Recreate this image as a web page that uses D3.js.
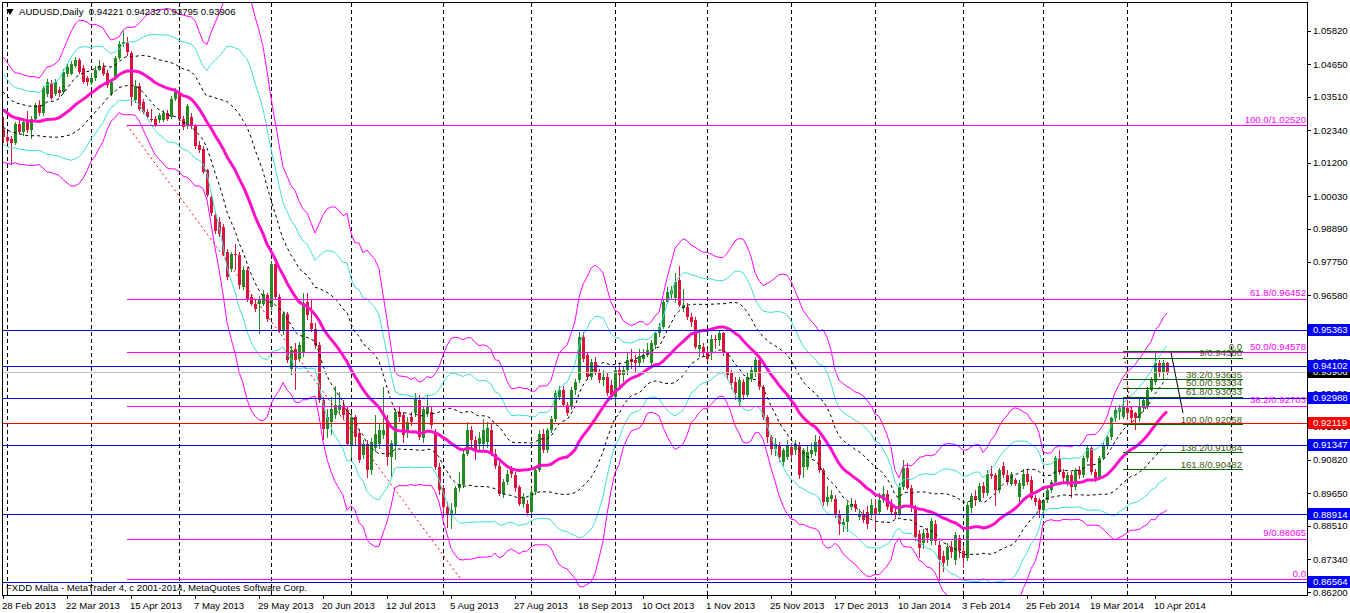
<!DOCTYPE html>
<html><head><meta charset="utf-8">
<script src="https://cdn.jsdelivr.net/npm/d3@7"></script>
<style>
html,body{margin:0;padding:0;background:#fff;overflow:hidden;}
svg{display:block;font-family:"Liberation Sans",Arial,sans-serif;}
</style></head><body>
<svg id="c" width="1350" height="613"></svg>
<script>
// ---------------- data ----------------
const symbolTitle = "AUDUSD,Daily";
const lastQuote = ["0.94221", "0.94232", "0.93795", "0.93906"];
const footerText = "FXDD Malta - MetaTrader 4, c 2001-2014, MetaQuotes Software Corp.";

// closes of the 19 sessions before the first visible bar (needed for the 20-bar bands)
const warmupCloses = [1.0430,1.0418,1.0374,1.0302,1.0318,1.0310,1.0295,1.0323,1.0325,1.0313,
  1.0334,1.0335,1.0380,1.0285,1.0245,1.0240,1.0255,1.0210,1.0233];

// daily candles [open, high, low, close], 28 Feb 2013 -> Apr 2014
const candles = [
[1.0240,1.0281,1.0188,1.0211],[1.0211,1.0225,1.0185,1.0197],[1.0202,1.0215,1.0112,1.0190],[1.0190,1.0262,1.0183,1.0255],
[1.0255,1.0280,1.0220,1.0228],[1.0228,1.0275,1.0215,1.0263],[1.0269,1.0300,1.0225,1.0234],[1.0234,1.0285,1.0202,1.0275],
[1.0272,1.0330,1.0265,1.0322],[1.0322,1.0340,1.0285,1.0293],[1.0293,1.0390,1.0285,1.0380],[1.0362,1.0412,1.0350,1.0403],
[1.0400,1.0410,1.0340,1.0348],[1.0362,1.0412,1.0355,1.0403],[1.0374,1.0385,1.0350,1.0365],[1.0368,1.0448,1.0360,1.0438],
[1.0432,1.0465,1.0420,1.0456],[1.0432,1.0475,1.0428,1.0467],[1.0458,1.0490,1.0450,1.0481],[1.0479,1.0488,1.0430,1.0438],
[1.0450,1.0462,1.0395,1.0403],[1.0415,1.0425,1.0390,1.0403],[1.0400,1.0430,1.0392,1.0418],[1.0415,1.0458,1.0405,1.0446],
[1.0444,1.0478,1.0440,1.0458],[1.0456,1.0470,1.0425,1.0432],[1.0434,1.0445,1.0380,1.0392],[1.0362,1.0410,1.0355,1.0403],
[1.0421,1.0495,1.0410,1.0485],[1.0485,1.0545,1.0478,1.0537],[1.0537,1.0582,1.0525,1.0543],[1.0540,1.0560,1.0495,1.0508],
[1.0503,1.0510,1.0320,1.0350],[1.0340,1.0410,1.0330,1.0390],[1.0390,1.0400,1.0300,1.0310],[1.0333,1.0345,1.0290,1.0298],
[1.0298,1.0310,1.0275,1.0281],[1.0275,1.0310,1.0262,1.0269],[1.0273,1.0285,1.0245,1.0252],[1.0269,1.0295,1.0260,1.0287],
[1.0269,1.0305,1.0262,1.0293],[1.0293,1.0305,1.0265,1.0272],[1.0281,1.0352,1.0275,1.0345],[1.0345,1.0380,1.0338,1.0368],
[1.0365,1.0375,1.0268,1.0275],[1.0275,1.0285,1.0235,1.0246],[1.0248,1.0325,1.0240,1.0318],[1.0281,1.0295,1.0240,1.0248],
[1.0248,1.0255,1.0170,1.0178],[1.0184,1.0195,1.0155,1.0164],[1.0170,1.0178,1.0080,1.0088],[1.0094,1.0100,1.0000,1.0007],
[1.0001,1.0010,0.9935,0.9945],[0.9937,0.9950,0.9870,0.9882],[0.9914,0.9930,0.9860,0.9873],[0.9896,0.9905,0.9795,0.9803],
[0.9809,0.9820,0.9710,0.9721],[0.9750,0.9810,0.9740,0.9803],[0.9803,0.9838,0.9745,0.9797],[0.9797,0.9810,0.9680,0.9692],
[0.9686,0.9760,0.9675,0.9745],[0.9745,0.9755,0.9635,0.9645],[0.9651,0.9660,0.9620,0.9628],[0.9628,0.9640,0.9600,0.9610],
[0.9628,0.9655,0.9523,0.9645],[0.9628,0.9675,0.9620,0.9663],[0.9657,0.9665,0.9565,0.9575],[0.9616,0.9778,0.9605,0.9768],
[0.9768,0.9775,0.9640,0.9651],[0.9651,0.9660,0.9525,0.9535],[0.9535,0.9600,0.9520,0.9593],[0.9593,0.9600,0.9420,0.9430],
[0.9400,0.9480,0.9380,0.9465],[0.9471,0.9490,0.9325,0.9430],[0.9436,0.9495,0.9425,0.9483],[0.9454,0.9665,0.9440,0.9629],
[0.9634,0.9665,0.9570,0.9588],[0.9559,0.9640,0.9530,0.9541],[0.9541,0.9560,0.9470,0.9483],[0.9483,0.9495,0.9280,0.9291],
[0.9291,0.9300,0.9150,0.9191],[0.9191,0.9260,0.9160,0.9232],[0.9215,0.9300,0.9170,0.9261],[0.9238,0.9340,0.9225,0.9273],
[0.9255,0.9320,0.9240,0.9273],[0.9267,0.9290,0.9225,0.9238],[0.9255,0.9270,0.9130,0.9139],[0.9130,0.9245,0.9090,0.9230],
[0.9230,0.9240,0.9130,0.9162],[0.9176,0.9190,0.9070,0.9083],[0.9098,0.9150,0.9085,0.9139],[0.9139,0.9150,0.9020,0.9046],
[0.9046,0.9160,0.9030,0.9145],[0.9125,0.9240,0.9110,0.9174],[0.9139,0.9210,0.9120,0.9186],[0.9168,0.9335,0.9155,0.9186],
[0.9221,0.9240,0.9060,0.9093],[0.9093,0.9150,0.9023,0.9140],[0.9130,0.9260,0.9080,0.9250],[0.9250,0.9265,0.9215,0.9232],
[0.9238,0.9250,0.9140,0.9168],[0.9180,0.9230,0.9160,0.9215],[0.9232,0.9250,0.9200,0.9215],[0.9244,0.9314,0.9230,0.9296],
[0.9290,0.9310,0.9150,0.9162],[0.9157,0.9270,0.9140,0.9261],[0.9244,0.9310,0.9230,0.9267],[0.9250,0.9270,0.9190,0.9203],
[0.9174,0.9190,0.9045,0.9057],[0.9057,0.9070,0.8960,0.8976],[0.8982,0.8995,0.8880,0.8917],[0.8917,0.8935,0.8845,0.8894],
[0.8888,0.8930,0.8840,0.8905],[0.8917,0.8990,0.8890,0.8982],[0.8982,0.9040,0.8970,0.8999],[0.8993,0.9115,0.8985,0.9104],
[0.9104,0.9215,0.9095,0.9186],[0.9186,0.9200,0.9120,0.9151],[0.9151,0.9165,0.9080,0.9116],[0.9139,0.9180,0.9110,0.9157],
[0.9139,0.9225,0.9120,0.9186],[0.9145,0.9215,0.9125,0.9192],[0.9186,0.9210,0.9095,0.9104],[0.9104,0.9120,0.9050,0.9060],
[0.9060,0.9075,0.8955,0.8964],[0.8964,0.9015,0.8950,0.9005],[0.9005,0.9045,0.8995,0.9034],[0.9046,0.9060,0.9020,0.9034],
[0.9028,0.9040,0.8970,0.8982],[0.8987,0.8995,0.8920,0.8929],[0.8929,0.8965,0.8915,0.8952],[0.8929,0.8940,0.8885,0.8896],
[0.8900,0.8985,0.8890,0.8970],[0.8970,0.9055,0.8960,0.9046],[0.9046,0.9185,0.9040,0.9174],[0.9174,0.9190,0.9105,0.9116],
[0.9116,0.9195,0.9105,0.9186],[0.9186,0.9235,0.9175,0.9226],[0.9226,0.9325,0.9215,0.9314],[0.9302,0.9340,0.9290,0.9326],
[0.9326,0.9340,0.9265,0.9273],[0.9273,0.9285,0.9235,0.9244],[0.9267,0.9335,0.9255,0.9326],[0.9326,0.9365,0.9310,0.9355],
[0.9361,0.9530,0.9350,0.9512],[0.9512,0.9528,0.9425,0.9436],[0.9448,0.9460,0.9362,0.9372],[0.9372,0.9435,0.9360,0.9424],
[0.9424,0.9440,0.9380,0.9390],[0.9390,0.9400,0.9350,0.9360],[0.9360,0.9395,0.9340,0.9370],[0.9372,0.9385,0.9305,0.9314],
[0.9343,0.9360,0.9290,0.9302],[0.9302,0.9400,0.9280,0.9395],[0.9395,0.9420,0.9340,0.9378],[0.9378,0.9410,0.9355,0.9395],
[0.9395,0.9455,0.9380,0.9430],[0.9436,0.9470,0.9400,0.9425],[0.9430,0.9450,0.9390,0.9419],[0.9419,0.9470,0.9405,0.9444],
[0.9436,0.9470,0.9420,0.9448],[0.9448,0.9490,0.9440,0.9465],[0.9419,0.9500,0.9410,0.9489],[0.9483,0.9530,0.9470,0.9524],
[0.9524,0.9560,0.9510,0.9547],[0.9547,0.9645,0.9540,0.9634],[0.9634,0.9685,0.9625,0.9669],[0.9663,0.9690,0.9645,0.9675],
[0.9646,0.9735,0.9630,0.9704],[0.9710,0.9758,0.9615,0.9623],[0.9611,0.9680,0.9600,0.9623],[0.9617,0.9630,0.9570,0.9582],
[0.9582,0.9595,0.9545,0.9564],[0.9570,0.9580,0.9470,0.9477],[0.9471,0.9540,0.9440,0.9483],[0.9477,0.9490,0.9440,0.9454],
[0.9454,0.9470,0.9425,0.9436],[0.9454,0.9520,0.9430,0.9506],[0.9506,0.9520,0.9470,0.9500],[0.9500,0.9535,0.9480,0.9524],
[0.9524,0.9530,0.9445,0.9454],[0.9454,0.9460,0.9360,0.9378],[0.9384,0.9395,0.9330,0.9349],[0.9355,0.9370,0.9290,0.9314],
[0.9285,0.9370,0.9270,0.9360],[0.9355,0.9365,0.9290,0.9308],[0.9308,0.9385,0.9300,0.9372],[0.9366,0.9410,0.9355,0.9395],
[0.9384,0.9440,0.9370,0.9430],[0.9430,0.9445,0.9325,0.9337],[0.9337,0.9345,0.9220,0.9232],[0.9232,0.9240,0.9140,0.9162],
[0.9162,0.9170,0.9100,0.9121],[0.9121,0.9160,0.9095,0.9139],[0.9133,0.9145,0.9075,0.9092],[0.9075,0.9125,0.9060,0.9116],
[0.9092,0.9150,0.9080,0.9133],[0.9127,0.9140,0.9085,0.9098],[0.9116,0.9150,0.9100,0.9139],[0.9133,0.9145,0.9015,0.9028],
[0.9057,0.9125,0.9020,0.9116],[0.9057,0.9130,0.9045,0.9110],[0.9104,0.9140,0.9090,0.9116],[0.9110,0.9170,0.9095,0.9145],
[0.9151,0.9165,0.9035,0.9046],[0.9046,0.9055,0.8920,0.8935],[0.8935,0.8990,0.8920,0.8952],[0.8946,0.8975,0.8935,0.8958],
[0.8946,0.8960,0.8880,0.8894],[0.8894,0.8905,0.8820,0.8859],[0.8853,0.8880,0.8830,0.8865],[0.8865,0.8935,0.8830,0.8923],
[0.8917,0.8950,0.8905,0.8929],[0.8929,0.8940,0.8900,0.8912],[0.8882,0.8910,0.8870,0.8894],[0.8888,0.8905,0.8860,0.8871],
[0.8900,0.8920,0.8840,0.8859],[0.8894,0.8945,0.8880,0.8923],[0.8912,0.8945,0.8840,0.8894],[0.8900,0.8965,0.8890,0.8941],
[0.8941,0.8990,0.8930,0.8964],[0.8964,0.8975,0.8905,0.8917],[0.8929,0.8945,0.8890,0.8900],[0.8900,0.8910,0.8875,0.8894],
[0.8894,0.9000,0.8885,0.8987],[0.8987,0.9080,0.8975,0.9052],[0.9052,0.9070,0.8975,0.8985],[0.8985,0.8995,0.8900,0.8912],
[0.8912,0.8925,0.8800,0.8812],[0.8824,0.8835,0.8740,0.8775],[0.8792,0.8840,0.8770,0.8827],[0.8827,0.8845,0.8790,0.8810],
[0.8798,0.8880,0.8785,0.8867],[0.8856,0.8870,0.8785,0.8798],[0.8786,0.8800,0.8660,0.8733],[0.8745,0.8765,0.8690,0.8720],
[0.8731,0.8790,0.8710,0.8778],[0.8778,0.8800,0.8740,0.8760],[0.8731,0.8830,0.8715,0.8818],[0.8810,0.8820,0.8740,0.8763],
[0.8763,0.8780,0.8705,0.8740],[0.8740,0.8935,0.8730,0.8923],[0.8915,0.8965,0.8895,0.8955],[0.8955,0.8975,0.8920,0.8940],
[0.8940,0.9000,0.8935,0.8990],[0.8990,0.9005,0.8950,0.8965],[0.8965,0.9045,0.8955,0.9034],[0.9034,0.9060,0.9015,0.9025],
[0.9028,0.9035,0.8920,0.8976],[0.8976,0.9055,0.8965,0.9045],[0.9060,0.9075,0.9020,0.9028],[0.9028,0.9045,0.8995,0.9005],
[0.8999,0.9040,0.8990,0.9034],[0.9011,0.9020,0.8990,0.8999],[0.8952,0.9010,0.8935,0.9000],[0.8990,0.9050,0.8980,0.9034],
[0.9034,0.9050,0.8995,0.9005],[0.9011,0.9025,0.8940,0.8947],[0.8947,0.8960,0.8920,0.8935],[0.8941,0.8950,0.8880,0.8906],
[0.8906,0.8945,0.8890,0.8941],[0.8941,0.8985,0.8930,0.8976],[0.8976,0.9010,0.8965,0.9005],[0.9005,0.9095,0.8995,0.9087],
[0.9087,0.9115,0.9030,0.9040],[0.9040,0.9050,0.9005,0.9017],[0.9000,0.9040,0.8990,0.9028],[0.9028,0.9040,0.8950,0.8987],
[0.8987,0.9055,0.8975,0.9046],[0.9046,0.9060,0.9015,0.9028],[0.9028,0.9095,0.9020,0.9087],[0.9087,0.9130,0.9075,0.9122],
[0.9122,0.9135,0.9030,0.9040],[0.9040,0.9050,0.9005,0.9020],[0.9020,0.9095,0.9010,0.9087],[0.9087,0.9140,0.9080,0.9133],
[0.9133,0.9170,0.9120,0.9162],[0.9162,0.9232,0.9150,0.9227],[0.9227,0.9265,0.9215,0.9256],[0.9250,0.9275,0.9220,0.9262],
[0.9232,0.9300,0.9225,0.9265],[0.9262,0.9290,0.9220,0.9244],[0.9256,0.9270,0.9210,0.9227],[0.9244,0.9250,0.9185,0.9227],
[0.9227,0.9295,0.9215,0.9270],[0.9262,0.9300,0.9250,0.9291],[0.9267,0.9335,0.9260,0.9326],[0.9326,0.9370,0.9320,0.9361],
[0.9355,0.9461,0.9345,0.9419],[0.9419,0.9430,0.9370,0.9390],[0.9384,0.9430,0.9360,0.9419],[0.94221,0.94232,0.93795,0.93906]
];

const dateLabels = ["28 Feb 2013","22 Mar 2013","15 Apr 2013","7 May 2013","29 May 2013","20 Jun 2013","12 Jul 2013",
  "5 Aug 2013","27 Aug 2013","18 Sep 2013","10 Oct 2013","1 Nov 2013","25 Nov 2013","17 Dec 2013","10 Jan 2014",
  "3 Feb 2014","25 Feb 2014","19 Mar 2014","10 Apr 2014"];
const dateLabelBars = [0,16,32,48,64,80,96,112,128,144,160,176,192,208,224,240,256,272,288];
const monthSeparatorBars = [1,22,44,67,87,110,132,153,176,197,218,240,260,281,307];

const priceTicks = [1.05820,1.04650,1.03510,1.02340,1.01200,1.00030,0.98890,0.97750,0.96580,
  0.95410,0.94270,0.93130,0.91990,0.90820,0.89650,0.88510,0.87340,0.86200];

const blueLevels = [0.95363,0.94102,0.92988,0.91347,0.88914,0.86564];
const redLevel = 0.92119;
const bidLevel = 0.93906;

const fibMainLevels = [1.02520,0.96452,0.94578,0.92703,0.88065,0.86640];
const fibMainLabels = ["100.0/1.02520","61.8/0.96452","50.0/0.94578","38.2/0.92703","9/0.88065","0.0"];
const fibMainBars = [31, 114.5];            // start bar of the levels / trend line ends
const fibMainTrend = [1.02520, 0.86640];

const fibSmallLevels = [0.94610,0.94380,0.93635,0.93334,0.93033,0.92058,0.91084,0.90482];
const fibSmallLabels = ["0.0","9/0.94380","38.2/0.93635","50.0/0.93334","61.8/0.93033","100.0/0.92058","138.2/0.91084","161.8/0.90482"];
const fibSmallBars = [280, 310];
const fibSmallTrendBars = [280.25, 282.25];
const fibSmallTrend = [0.94610, 0.92058];
const userTrendBars = [292, 295];
const userTrend = [0.94578, 0.92453];

const priceBoxes = [
  {v:0.93906, bg:"#000000"},
  {v:0.95363, bg:"#0000ff"},{v:0.94102, bg:"#0000ff"},{v:0.92988, bg:"#0000ff"},
  {v:0.92119, bg:"#ff0000"},{v:0.91347, bg:"#0000ff"},{v:0.88914, bg:"#0000ff"},{v:0.86564, bg:"#0000ff"}
];

// ---------------- drawing ----------------
const svg = d3.select("#c");
const L = 2.5, R = 1307.5, T = 2.5, B = 595.5;
const x = d3.scaleLinear().domain([0, 326]).range([3, 1307]);
const y = d3.scaleLinear().domain([0.86200, 1.05820]).range([592, 30.7]);
const FONT = 9.6;

svg.append("defs").append("clipPath").attr("id","plot")
  .append("rect").attr("x", L).attr("y", T).attr("width", R - L).attr("height", B - T);
const plot = svg.append("g").attr("clip-path","url(#plot)");

// month separators
plot.append("g").selectAll("line").data(monthSeparatorBars).join("line")
  .attr("x1", d => Math.round(x(d)) + 0.5).attr("x2", d => Math.round(x(d)) + 0.5)
  .attr("y1", T).attr("y2", B).attr("stroke", "#000").attr("stroke-dasharray", "4,3")
  .attr("shape-rendering","crispEdges");

// candles
const bull = "#228b22", bear = "#dc143c";
const cg = plot.append("g").attr("shape-rendering","crispEdges");
cg.selectAll("line").data(candles).join("line")
  .attr("x1", (d,i) => x(i) + 0.5).attr("x2", (d,i) => x(i) + 0.5)
  .attr("y1", d => y(d[1])).attr("y2", d => y(d[2]))
  .attr("stroke", d => d[3] >= d[0] ? bull : bear);
cg.selectAll("rect").data(candles).join("rect")
  .attr("x", (d,i) => x(i) - 1).attr("width", 3)
  .attr("y", d => y(Math.max(d[0], d[3])))
  .attr("height", d => Math.max(1, Math.abs(y(d[0]) - y(d[3]))))
  .attr("fill", d => d[3] >= d[0] ? bull : bear);

// Bollinger(20) bands with 1,2,3 deviations
const allCloses = warmupCloses.concat(candles.map(d => d[3]));
const n0 = warmupCloses.length;
const stats = candles.map((d, i) => {
  const w = allCloses.slice(i + n0 - 19, i + n0 + 1);
  const m = d3.mean(w);
  const sd = Math.sqrt(d3.mean(w, v => (v - m) * (v - m)));
  return {i, m, sd};
});
const line = d3.line().x(d => x(d[0])).y(d => y(d[1]));
const bandStyles = [
  {k:3, color:"#ff00ff", w:1, dash:null},
  {k:2, color:"#40e0d0", w:1, dash:null},
  {k:1, color:"#000000", w:1, dash:"3,3"}
];
bandStyles.forEach(s => {
  [1, -1].forEach(sign => {
    plot.append("path").datum(stats.map(p => [p.i, p.m + sign * s.k * p.sd]))
      .attr("d", line).attr("fill","none").attr("stroke", s.color).attr("stroke-width", s.w)
      .attr("stroke-dasharray", s.dash);
  });
});
plot.append("path").datum(stats.map(p => [p.i, p.m]))
  .attr("d", line).attr("fill","none").attr("stroke","#ff10c8").attr("stroke-width",3)
  .attr("stroke-linejoin","round");

// horizontal levels
const hl = plot.append("g").attr("shape-rendering","crispEdges");
hl.append("line").attr("x1", L).attr("x2", R).attr("y1", Math.round(y(bidLevel))+0.5).attr("y2", Math.round(y(bidLevel))+0.5)
  .attr("stroke","#c0c0c0");
hl.append("line").attr("x1", L).attr("x2", R).attr("y1", Math.round(y(redLevel))+0.5).attr("y2", Math.round(y(redLevel))+0.5)
  .attr("stroke","#ff0000");

// main fibonacci (magenta)
const fm = plot.append("g");
fm.selectAll("line").data(fibMainLevels).join("line")
  .attr("x1", x(fibMainBars[0])).attr("x2", R)
  .attr("y1", d => Math.round(y(d)) + 0.5).attr("y2", d => Math.round(y(d)) + 0.5)
  .attr("stroke","#ff00ff").attr("stroke-width",1.3).attr("shape-rendering","crispEdges");
fm.append("line").attr("x1", x(fibMainBars[0])).attr("y1", y(fibMainTrend[0]))
  .attr("x2", x(fibMainBars[1])).attr("y2", y(fibMainTrend[1]))
  .attr("stroke","#ff0000").attr("stroke-dasharray","2,3");
fm.selectAll("text").data(fibMainLevels).join("text")
  .attr("x", R - 1.5).attr("y", d => y(d) - 2.5).attr("text-anchor","end")
  .attr("font-size", FONT).attr("fill","#ff00ff").text((d,i) => fibMainLabels[i]);

// small fibonacci (green)
const fs = plot.append("g");
fs.selectAll("line").data(fibSmallLevels).join("line")
  .attr("x1", x(fibSmallBars[0])).attr("x2", x(fibSmallBars[1]))
  .attr("y1", d => Math.round(y(d)) + 0.5).attr("y2", d => Math.round(y(d)) + 0.5)
  .attr("stroke","#006400").attr("stroke-width",1.3).attr("shape-rendering","crispEdges");
fs.append("line").attr("x1", x(fibSmallTrendBars[0])).attr("y1", y(fibSmallTrend[0]))
  .attr("x2", x(fibSmallTrendBars[1])).attr("y2", y(fibSmallTrend[1]))
  .attr("stroke","#ff0000").attr("stroke-dasharray","2,3");
fs.selectAll("text").data(fibSmallLevels).join("text")
  .attr("x", x(fibSmallBars[1]) - 1).attr("y", d => y(d) - 1.5).attr("text-anchor","end")
  .attr("font-size", FONT).attr("fill","#3d5a12").text((d,i) => fibSmallLabels[i]);
plot.append("line").attr("x1", x(userTrendBars[0])).attr("y1", y(userTrend[0]))
  .attr("x2", x(userTrendBars[1])).attr("y2", y(userTrend[1])).attr("stroke","#000");

// blue levels on top
hl.append("g").selectAll("line").data(blueLevels).join("line")
  .attr("x1", L).attr("x2", R)
  .attr("y1", d => Math.round(y(d)) + 0.5).attr("y2", d => Math.round(y(d)) + 0.5)
  .attr("stroke","#0000ff").attr("stroke-width",1.4);

// header & footer
svg.append("path").attr("d", d3.symbol().type(d3.symbolTriangle).size(22))
  .attr("transform","translate(10,11) rotate(180)").attr("fill","#000");
svg.append("text").attr("x", 19).attr("y", 14.5).attr("font-size", FONT).attr("fill","#000")
  .attr("xml:space","preserve")
  .text(symbolTitle + "  " + lastQuote.join(" "));
svg.append("text").attr("x", 6).attr("y", 591).attr("font-size", FONT).attr("fill","#000").text(footerText);

// frame
svg.append("rect").attr("x", L).attr("y", T).attr("width", R - L).attr("height", B - T)
  .attr("fill","none").attr("stroke","#000").attr("shape-rendering","crispEdges");

// right price axis
const yAxis = svg.append("g");
yAxis.selectAll("line").data(priceTicks).join("line")
  .attr("x1", R).attr("x2", R + 3.5).attr("y1", d => Math.round(y(d)) + 0.5).attr("y2", d => Math.round(y(d)) + 0.5)
  .attr("stroke","#000").attr("shape-rendering","crispEdges");
yAxis.selectAll("text").data(priceTicks).join("text")
  .attr("x", 1313).attr("y", d => y(d) + 3.5).attr("font-size", FONT).attr("fill","#000")
  .text(d => d.toFixed(5));

// price boxes
const pb = svg.append("g").selectAll("g").data(priceBoxes).join("g");
pb.append("rect").attr("x", 1308).attr("width", 44).attr("y", d => Math.round(y(d.v)) - 6).attr("height", 12)
  .attr("fill", d => d.bg).attr("shape-rendering","crispEdges");
pb.append("text").attr("x", 1313).attr("y", d => y(d.v) + 3.5).attr("font-size", FONT).attr("fill","#fff")
  .text(d => d.v.toFixed(5));

// bottom date axis
const xAxis = svg.append("g");
xAxis.selectAll("line").data(dateLabelBars).join("line")
  .attr("x1", d => x(d) + 0.5).attr("x2", d => x(d) + 0.5).attr("y1", B).attr("y2", B + 3)
  .attr("stroke","#000").attr("shape-rendering","crispEdges");
xAxis.selectAll("text").data(dateLabelBars).join("text")
  .attr("x", d => x(d) - 1).attr("y", 609).attr("font-size", FONT).attr("fill","#000")
  .text((d,i) => dateLabels[i]);
</script>
</body></html>
